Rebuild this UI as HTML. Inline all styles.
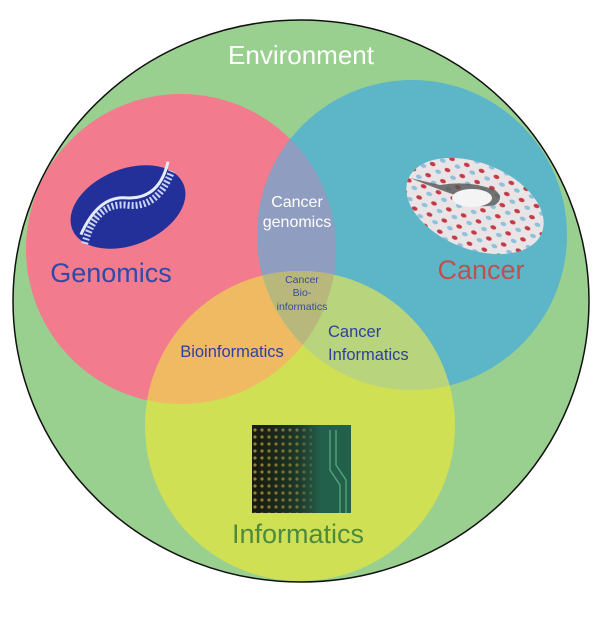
<!DOCTYPE html>
<html><head><meta charset="utf-8"><style>
html,body{margin:0;padding:0;background:#fff;}
svg{display:block;}
text{font-family:"Liberation Sans",sans-serif;}
</style></head><body>
<svg width="600" height="620" viewBox="0 0 600 620" xmlns="http://www.w3.org/2000/svg">
<defs>
<clipPath id="cR"><circle cx="181" cy="249" r="155"/></clipPath>
<clipPath id="cB"><circle cx="412" cy="235" r="155"/></clipPath>
<clipPath id="cY"><circle cx="300" cy="426" r="155"/></clipPath>
<pattern id="dots" width="7" height="7" patternUnits="userSpaceOnUse">
<circle cx="3" cy="3" r="1.6" fill="#c9b23a"/>
</pattern>
<linearGradient id="chip" x1="0" x2="1" y1="0" y2="0">
<stop offset="0" stop-color="#1a1a0e"/><stop offset="0.5" stop-color="#1d3a2c"/><stop offset="1" stop-color="#2a7d62"/>
</linearGradient>
<linearGradient id="chipfade" x1="0" x2="1"><stop offset="0" stop-color="#000" stop-opacity="0"/><stop offset="0.45" stop-color="#1d3a2c" stop-opacity="0.3"/><stop offset="0.7" stop-color="#23604c" stop-opacity="1"/></linearGradient>
<pattern id="pills" width="16" height="12" patternUnits="userSpaceOnUse">
<rect width="16" height="12" fill="#e9e4e6"/>
<ellipse cx="4" cy="3" rx="3" ry="2" fill="#c43a48"/>
<ellipse cx="12" cy="8" rx="3" ry="2" fill="#8fc0dc"/>
</pattern>
</defs>
<ellipse cx="301" cy="301" rx="288" ry="281" fill="#99d08f" stroke="#111" stroke-width="1.5"/>
<circle cx="181" cy="249" r="155" fill="#f27b8e"/>
<circle cx="412" cy="235" r="155" fill="#5db5c8"/>
<circle cx="300" cy="426" r="155" fill="#cfe055"/>
<g clip-path="url(#cR)"><circle cx="412" cy="235" r="155" fill="#8f9dc0"/><circle cx="300" cy="426" r="155" fill="#f0ba62"/></g>
<g clip-path="url(#cB)"><circle cx="300" cy="426" r="155" fill="#b8d47c"/></g>
<g clip-path="url(#cR)"><g clip-path="url(#cB)"><circle cx="300" cy="426" r="155" fill="#b8b87c"/></g></g>

<!-- DNA image -->
<g transform="rotate(-22 128 207)">
<ellipse cx="128" cy="207" rx="60" ry="38" fill="#24309a"/>
<path d="M74 225 Q100 190 128 205 Q155 220 182 190" stroke="#c8d4f4" stroke-width="7" fill="none" stroke-dasharray="2 2"/>
<path d="M74 215 Q105 185 130 198 Q160 212 182 180" stroke="#e6ecff" stroke-width="3" fill="none"/>
</g>
<!-- Pills image -->
<g transform="rotate(22 475 206)">
<ellipse cx="475" cy="206" rx="72" ry="43" fill="url(#pills)"/>
</g>
<path d="M410 178 Q440 190 455 195 Q470 210 495 205 Q505 198 495 190 Q470 180 440 185 Z" fill="#555" opacity="0.8"/>
<ellipse cx="472" cy="198" rx="20" ry="9" fill="#f4f4f4"/>
<!-- Chip image -->
<rect x="252" y="425" width="99" height="88" fill="url(#chip)"/>
<rect x="252" y="425" width="60" height="88" fill="url(#dots)" opacity="0.7"/>
<rect x="252" y="425" width="99" height="88" fill="url(#chipfade)"/>
<path d="M330 430 V470 L340 485 V513 M336 430 V465 L346 480 V513" stroke="#4fa07a" stroke-width="1.5" fill="none"/>

<text x="301" y="64" font-size="26" fill="#fff" text-anchor="middle">Environment</text>
<text x="111" y="282" font-size="27" fill="#2f4aa8" text-anchor="middle">Genomics</text>
<text x="481" y="279" font-size="27" fill="#c0504d" text-anchor="middle">Cancer</text>
<text x="298" y="543" font-size="27" fill="#4e8a3c" text-anchor="middle">Informatics</text>
<text x="297" y="207" font-size="16" fill="#fff" text-anchor="middle">Cancer</text>
<text x="297" y="227" font-size="16" fill="#fff" text-anchor="middle">genomics</text>
<text x="302" y="283" font-size="10.5" fill="#3a4aa0" text-anchor="middle">Cancer</text>
<text x="302" y="296" font-size="10.5" fill="#3a4aa0" text-anchor="middle">Bio-</text>
<text x="302" y="310" font-size="10.5" fill="#3a4aa0" text-anchor="middle">informatics</text>
<text x="232" y="357" font-size="16.5" fill="#2e3f9e" text-anchor="middle">Bioinformatics</text>
<text x="328" y="337" font-size="16.5" fill="#2e3f9e">Cancer</text>
<text x="328" y="360" font-size="16.5" fill="#2e3f9e">Informatics</text>
</svg>
</body></html>
